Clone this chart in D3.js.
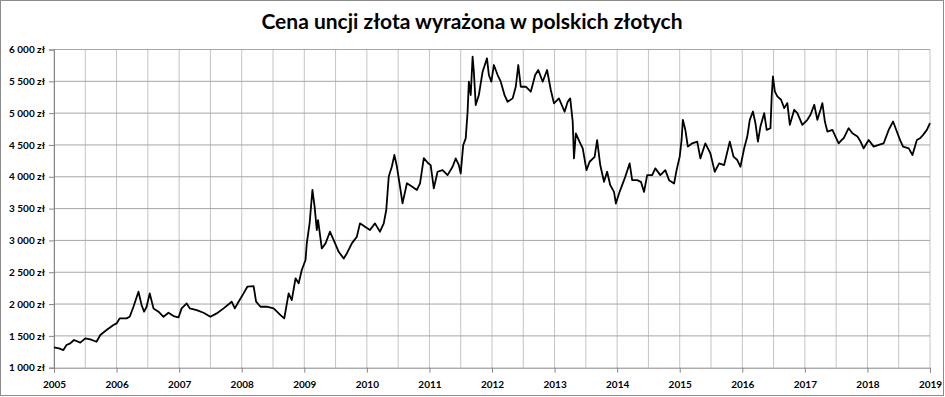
<!DOCTYPE html>
<html><head><meta charset="utf-8">
<script src="https://cdn.jsdelivr.net/npm/d3@7"></script>
<style>
html,body{margin:0;padding:0;background:#fff;}
svg{display:block;}
text{font-family:Lato,"Open Sans",sans-serif;fill:#000;}
</style></head>
<body>
<svg id="c" width="945" height="397"></svg>
<script>
const title = "Cena uncji złota wyrażona w polskich złotych";
// time in fractional years
const times = [
2005.00,2005.08,2005.15,2005.20,2005.26,2005.32,2005.42,2005.50,2005.58,2005.68,2005.74,2005.84,2005.95,
2006.00,2006.05,2006.16,2006.21,2006.27,2006.35,2006.40,2006.44,2006.48,2006.53,2006.59,2006.67,2006.75,2006.83,2006.91,2006.99,
2007.04,2007.12,2007.17,2007.28,2007.39,2007.50,2007.60,2007.71,2007.84,2007.89,2007.95,
2008.03,2008.09,2008.19,2008.23,2008.30,2008.40,2008.51,2008.62,2008.68,2008.75,2008.80,2008.86,2008.91,2008.96,
2009.02,2009.04,2009.085,2009.13,2009.165,2009.20,2009.22,2009.28,2009.34,2009.41,2009.47,2009.55,2009.63,2009.68,2009.76,2009.84,2009.89,2009.97,
2010.05,2010.13,2010.21,2010.27,2010.31,2010.35,2010.40,2010.44,2010.48,2010.53,2010.57,2010.64,2010.72,2010.80,2010.85,2010.91,2010.98,
2011.02,2011.07,2011.13,2011.21,2011.29,2011.37,2011.42,2011.47,2011.50,2011.54,2011.58,2011.61,2011.63,2011.66,2011.69,2011.71,2011.74,2011.79,2011.85,2011.92,2011.95,2011.99,
2012.03,2012.09,2012.14,2012.20,2012.25,2012.33,2012.38,2012.42,2012.46,2012.54,2012.62,2012.69,2012.74,2012.81,2012.88,2012.94,2012.99,
2013.07,2013.16,2013.21,2013.25,2013.29,2013.31,2013.34,2013.40,2013.45,2013.51,2013.56,2013.64,2013.68,2013.73,2013.79,2013.84,2013.89,2013.95,2013.98,
2014.03,2014.08,2014.13,2014.20,2014.24,2014.32,2014.38,2014.43,2014.48,2014.56,2014.61,2014.69,2014.77,2014.83,2014.91,2014.95,
2015.00,2015.03,2015.05,2015.09,2015.13,2015.20,2015.28,2015.33,2015.41,2015.49,2015.56,2015.63,2015.71,2015.80,2015.86,2015.92,2015.97,
2016.03,2016.08,2016.12,2016.17,2016.21,2016.25,2016.29,2016.35,2016.39,2016.45,2016.47,2016.49,2016.52,2016.56,2016.62,2016.67,2016.72,2016.76,2016.83,2016.88,2016.96,
2017.04,2017.09,2017.15,2017.20,2017.25,2017.28,2017.32,2017.36,2017.44,2017.54,2017.59,2017.62,2017.70,2017.76,2017.84,2017.89,2017.94,
2018.02,2018.10,2018.18,2018.26,2018.34,2018.41,2018.47,2018.52,2018.57,2018.66,2018.72,2018.79,2018.84,2018.89,2018.95,2019.00
];
const prices = [
1319,1304,1277,1356,1382,1435,1393,1460,1445,1408,1513,1592,1670,
1696,1775,1775,1800,1958,2194,1984,1880,1958,2168,1932,1880,1800,1864,1812,1790,
1932,2010,1932,1906,1864,1800,1853,1932,2037,1932,2037,
2168,2273,2283,2037,1958,1958,1932,1827,1775,2168,2063,2404,2325,2535,
2693,2953,3268,3793,3530,3163,3320,2874,2953,3137,3005,2821,2716,2795,2953,3058,3268,3215,
3163,3268,3137,3268,3478,4003,4161,4345,4161,3846,3583,3898,3846,3793,3898,4292,4213,
4183,3817,4079,4105,4026,4157,4288,4183,4052,4498,4603,5022,5494,5284,5887,5651,5127,5284,5651,5861,5599,5494,
5756,5599,5494,5284,5179,5232,5415,5756,5415,5415,5337,5599,5678,5494,5678,5363,5153,
5232,5022,5179,5232,4865,4288,4681,4550,4445,4105,4236,4314,4577,4184,3921,4079,3868,3763,3579,
3737,3868,4000,4211,3947,3947,3921,3763,4026,4026,4132,4026,4105,3947,3895,4105,
4316,4579,4895,4737,4474,4526,4553,4289,4526,4368,4079,4211,4184,4553,4316,4263,4158,
4447,4632,4895,5026,4842,4553,4789,5000,4737,4763,5263,5579,5342,5263,5211,5079,5158,4816,5053,5000,4816,
4895,4974,5132,4895,5053,5158,4868,4711,4737,4526,4579,4605,4763,4684,4632,4553,4447,
4579,4474,4500,4526,4737,4868,4711,4579,4474,4447,4342,4579,4605,4658,4737,4842
];
const yTicks = [1000,1500,2000,2500,3000,3500,4000,4500,5000,5500,6000];
const xTicks = [2005,2006,2007,2008,2009,2010,2011,2012,2013,2014,2015,2016,2017,2018,2019];
const xGrid = d3.range(2005, 2019.01, 0.5);

const svg = d3.select("#c");
const L = 54, R = 930, T = 49.5, B = 367.7;
const x = d3.scaleLinear().domain([2005, 2019]).range([L, R]);
const y = d3.scaleLinear().domain([1000, 6000]).range([B, T]);

// outer border
svg.append("rect").attr("x",0.5).attr("y",0.5).attr("width",943).attr("height",395)
  .attr("fill","#fff").attr("stroke","#8c8c8c").attr("stroke-width",1);

// title
svg.append("text").attr("x",472).attr("y",28.5).attr("text-anchor","middle")
  .style("font-size","21px").style("font-weight","bold").text(title);

// vertical grid
svg.append("g").selectAll("line").data(xGrid).join("line")
  .attr("x1",d=>x(d)).attr("x2",d=>x(d)).attr("y1",T).attr("y2",B)
  .attr("stroke","#c4c4c4").attr("stroke-width",1);
// horizontal grid
svg.append("g").selectAll("line").data(yTicks.filter(d=>d>1000)).join("line")
  .attr("x1",L).attr("x2",R).attr("y1",d=>y(d)).attr("y2",d=>y(d))
  .attr("stroke","#a6a6a6").attr("stroke-width",1);

// axes
const fmt = d => d3.format(",")(d).replace(/,/g, "\u00a0") + " zł";
const yAxis = svg.append("g").attr("transform",`translate(${L},0)`)
  .call(d3.axisLeft(y).tickValues(yTicks).tickFormat(fmt).tickSize(5).tickPadding(4));
const xAxis = svg.append("g").attr("transform",`translate(0,${B})`)
  .call(d3.axisBottom(x).tickValues(xTicks).tickFormat(d3.format("d")).tickSize(5).tickPadding(8));
[yAxis, xAxis].forEach(g => {
  g.select(".domain").attr("stroke","#868686");
  g.selectAll(".tick line").attr("stroke","#868686");
  g.selectAll("text").style("font-size","10px").style("font-weight","bold")
    .style("font-family","Lato, 'Open Sans', sans-serif").attr("fill","#000");
});

// line
const data = times.map((t,i)=>({t, v: prices[i]}));
svg.append("path").datum(data)
  .attr("fill","none").attr("stroke","#000").attr("stroke-width",1.8)
  .attr("stroke-linejoin","round")
  .attr("d", d3.line().x(d=>x(d.t)).y(d=>y(d.v)));
</script>
</body></html>
